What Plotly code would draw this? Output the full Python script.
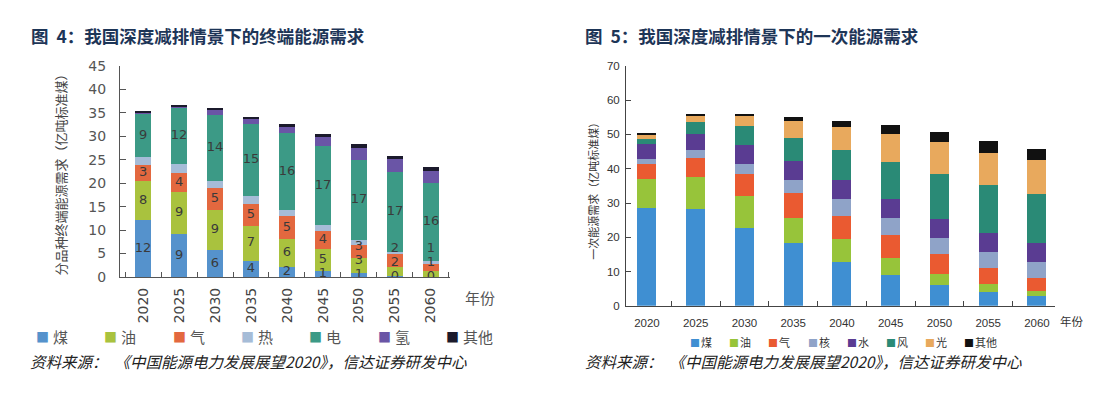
import plotly.graph_objects as go

W, H = 1098, 397

years = ["2020", "2025", "2030", "2035", "2040", "2045", "2050", "2055", "2060"]

# ---- Figure 4: final energy demand by carrier (100 Mt standard coal) ----
fin_names = ["煤", "油", "气", "热", "电", "氢", "其他"]
fin_coal = [12.2, 9.1, 5.8, 3.5, 2.2, 1.2, 0.8, 0.2, 0.1]
fin_oil = [8.2, 9.0, 8.5, 7.4, 6.0, 4.7, 3.3, 2.0, 1.1]
fin_gas = [3.5, 4.0, 4.6, 4.6, 4.8, 3.9, 2.8, 2.7, 1.5]
fin_heat = [1.6, 1.9, 1.6, 1.7, 1.2, 1.2, 0.9, 0.5, 0.7]
fin_elec = [9.4, 12.1, 14.1, 15.4, 16.6, 17.0, 17.2, 16.9, 16.6]
fin_h2 = [0.1, 0.3, 0.9, 1.0, 1.4, 1.8, 2.6, 2.8, 2.5]
fin_other = [0.3, 0.3, 0.6, 0.6, 0.4, 0.7, 0.8, 0.6, 0.9]

# printed value labels in figure 4
lbl_coal = ["12", "9", "6", "4", "2", "1", "1", "0", "0"]
lbl_oil = ["8", "9", "9", "7", "6", "5", "3", "2", "1"]
lbl_gas = ["3", "4", "5", "5", "5", "4", "3", "2", "1"]
lbl_elec = ["9", "12", "14", "15", "16", "17", "17", "17", "16"]

# ---- Figure 5: primary energy demand (100 Mt standard coal) ----
pri_names = ["煤", "油", "气", "核", "水", "风", "光", "其他"]
pri_coal = [28.5, 28.2, 22.7, 18.2, 12.8, 9.1, 6.1, 4.0, 2.9]
pri_oil = [8.6, 9.5, 9.2, 7.5, 6.6, 4.9, 3.3, 2.5, 1.5]
pri_gas = [4.3, 5.4, 6.5, 7.1, 6.8, 6.6, 5.7, 4.4, 3.7]
pri_nuc = [1.5, 2.3, 3.0, 4.0, 5.0, 4.9, 4.8, 4.9, 4.7]
pri_hydro = [4.3, 4.8, 5.5, 5.4, 5.6, 5.8, 5.5, 5.4, 5.6]
pri_wind = [1.5, 3.4, 5.6, 6.7, 8.6, 10.8, 13.2, 14.1, 14.1]
pri_solar = [1.2, 1.7, 2.8, 5.1, 6.9, 8.1, 9.1, 9.3, 10.0]
pri_other = [0.6, 0.6, 0.6, 1.2, 1.7, 2.5, 2.9, 3.6, 3.3]

fin_series = [fin_coal, fin_oil, fin_gas, fin_heat, fin_elec, fin_h2, fin_other]
fin_colors = ["#5592cc", "#a9c23e", "#e3683f", "#a6bcd7", "#3c9a86", "#6a55a6", "#1b1a2c"]
pri_series = [pri_coal, pri_oil, pri_gas, pri_nuc, pri_hydro, pri_wind, pri_solar, pri_other]
pri_colors = ["#3f8fd2", "#97c43a", "#ea5a31", "#8fa3c8", "#5a3c92", "#2a8a76", "#e8a95d", "#111111"]

CJK = "Noto Sans CJK SC"
NUM = "DejaVu Sans"

fig = go.Figure()

for name, vals, col in zip(fin_names, fin_series, fin_colors):
    fig.add_trace(go.Bar(x=years, y=vals, name=name, width=0.44, showlegend=False,
                         marker=dict(color=col, line=dict(width=0)),
                         xaxis="x", yaxis="y"))

for name, vals, col in zip(pri_names, pri_series, pri_colors):
    fig.add_trace(go.Bar(x=years, y=vals, name=name, width=0.39, showlegend=False,
                         marker=dict(color=col, line=dict(width=0)),
                         xaxis="x2", yaxis="y2"))

# value labels of figure 4: placed at segment middles, spread apart when segments are thin
lx, ly, lt = [], [], []
gap = 3.0
for i, yr in enumerate(years):
    base = 0.0
    cum = []
    for s in fin_series:
        cum.append((base, base + s[i]))
        base += s[i]
    prev = -10
    for k, lbl in zip([0, 1, 2], [lbl_coal, lbl_oil, lbl_gas]):
        mid = (cum[k][0] + cum[k][1]) / 2
        pos = max(mid, prev + gap)
        lx.append(yr); ly.append(pos); lt.append(lbl[i])
        prev = pos
    mid = (cum[4][0] + cum[4][1]) / 2
    lx.append(yr); ly.append(mid); lt.append(lbl_elec[i])

fig.add_trace(go.Scatter(x=lx, y=ly, text=lt, mode="text", showlegend=False,
                         textfont=dict(family=NUM, size=13, color="#3a3a3a"),
                         hoverinfo="skip", xaxis="x", yaxis="y"))


def px_x(p):
    return p / W


def px_y(p):
    return 1 - p / H


axis_common = dict(showgrid=False, zeroline=False, showline=True, ticks="inside")

fig.update_layout(
    width=W, height=H, margin=dict(l=0, r=0, t=0, b=0),
    paper_bgcolor="white", plot_bgcolor="white", barmode="stack",
    xaxis=dict(domain=[px_x(112), px_x(442)], anchor="y", type="category",
               range=[-0.64, 8.53], tickson="boundaries", ticklen=5,
               linecolor="#555555", tickcolor="#555555", linewidth=1.2,
               tickangle=-90, tickfont=dict(family=NUM, size=14, color="#444444"),
               ticklabelstandoff=4, **axis_common),
    yaxis=dict(domain=[px_y(272), px_y(52)], anchor="x", range=[0, 45], dtick=5,
               ticklen=6, linecolor="#555555", tickcolor="#555555", linewidth=1.2,
               tickfont=dict(family=NUM, size=14, color="#555555"),
               ticklabelstandoff=10, **axis_common),
    xaxis2=dict(domain=[px_x(618), px_x(1047)], anchor="y2", type="category",
                range=[-0.43, 8.37], tickson="boundaries", ticklen=5,
                linecolor="#444444", tickcolor="#444444", linewidth=1,
                tickfont=dict(family="Liberation Sans", size=11.5, color="#333333"),
                ticklabelstandoff=6, **axis_common),
    yaxis2=dict(domain=[px_y(302), px_y(52)], anchor="x2", range=[0, 70], dtick=10,
                ticklen=5, linecolor="#444444", tickcolor="#444444", linewidth=1,
                tickfont=dict(family="Liberation Sans", size=11.5, color="#333333"),
                ticklabelstandoff=3, **axis_common),
)

title_font = dict(family=CJK, size=17.5, color="#1d3557")
src_font = dict(family=CJK, size=15.5, color="#222222")
anns = [
    dict(text="<b>图  4：我国深度减排情景下的终端能源需求</b>", x=px_x(21), y=px_y(20),
         xanchor="left", yanchor="middle", font=title_font),
    dict(text="<b>图  5：我国深度减排情景下的一次能源需求</b>", x=px_x(575), y=px_y(20),
         xanchor="left", yanchor="middle", font=title_font),
    dict(text="<i>资料来源：  《中国能源电力发展展望2020》，信达证券研发中心</i>", x=px_x(20), y=px_y(359),
         xanchor="left", yanchor="middle", font=src_font),
    dict(text="<i>资料来源：  《中国能源电力发展展望2020》，信达证券研发中心</i>", x=px_x(575), y=px_y(359),
         xanchor="left", yanchor="middle", font=src_font),
    dict(text="分品种终端能源需求（亿吨标准煤）", x=px_x(52), y=px_y(162), textangle=-90,
         xanchor="center", yanchor="middle", font=dict(family=CJK, size=13, color="#444444")),
    dict(text="一次能源需求（亿吨标准煤）", x=px_x(585), y=px_y(180), textangle=-90,
         xanchor="center", yanchor="middle", font=dict(family=CJK, size=11, color="#333333")),
    dict(text="年份", x=px_x(455), y=px_y(293), xanchor="left", yanchor="middle",
         font=dict(family=CJK, size=15, color="#555555")),
    dict(text="年份", x=px_x(1050), y=px_y(318), xanchor="left", yanchor="middle",
         font=dict(family=CJK, size=11.5, color="#333333")),
]

# legend rows built from the series names / colours
for i, (name, col) in enumerate(zip(fin_names, fin_colors)):
    x0 = 26 + i * 68.3
    anns.append(dict(text="■", x=px_x(x0), y=px_y(334), xanchor="left", yanchor="middle",
                     font=dict(family=CJK, size=13, color=col)))
    anns.append(dict(text=name, x=px_x(x0 + 17), y=px_y(334), xanchor="left", yanchor="middle",
                     font=dict(family=CJK, size=15, color="#555555")))
for i, (name, col) in enumerate(zip(pri_names, pri_colors)):
    x0 = 680 + i * 39.2
    anns.append(dict(text="■", x=px_x(x0), y=px_y(340), xanchor="left", yanchor="middle",
                     font=dict(family=CJK, size=10, color=col)))
    anns.append(dict(text=name, x=px_x(x0 + 11), y=px_y(340), xanchor="left", yanchor="middle",
                     font=dict(family=CJK, size=11, color="#333333")))

for a in anns:
    a.update(xref="paper", yref="paper", showarrow=False)
fig.update_layout(annotations=anns)

fig.write_html("out.html")
